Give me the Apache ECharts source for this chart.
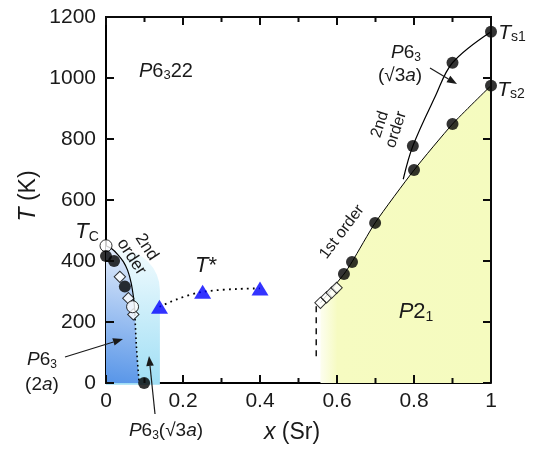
<!DOCTYPE html>
<html>
<head>
<meta charset="utf-8">
<script src="https://cdn.jsdelivr.net/npm/echarts@6/dist/echarts.min.js"></script>
<style>
  html, body { margin: 0; padding: 0; background: #fff; }
  #chart { width: 536px; height: 449px; }
</style>
</head>
<body>
<div id="chart"></div>
<script>
// axis ranges and ticks
const xRange = [0, 1];
const yRange = [0, 1200];
const xMajorTicks = [0, 0.2, 0.4, 0.6, 0.8, 1];
const xMinorTicks = [0.1, 0.3, 0.5, 0.7, 0.9];
const yMajorTicks = [0, 200, 400, 600, 800, 1000, 1200];

// Tc side (x ~ 0 - 0.1)
const tcCurve = [[0, 450], [0.015, 440], [0.03, 422], [0.045, 398], [0.056, 370], [0.065, 330], [0.071, 285], [0.074, 250], [0.075, 225]];
const tcDotted = [[0.075, 225], [0.079, 120], [0.086, 0]];
const tcDots = [[0, 416], [0.021, 400], [0.049, 316], [0.099, 0]];
const tcCircles = [[0, 450], [0.069, 250]];
const tcDiamonds = [[0.036, 348], [0.058, 278], [0.071, 225]];

// cyan P6_3(sqrt3 a) box: [x0, x1, y0, y1]
const cyanBox = [[0, 0.14, -6, 436]];

// T* points
const tStar = [[0.139, 250], [0.251, 299], [0.4, 310]];

// Sr rich side
const ts1Curve = [[0.772, 668], [0.797, 777], [0.855, 939], [0.9, 1050], [1, 1152]];
const ts1Dots = [[0.797, 777], [0.9, 1050], [1, 1152]];
const ts2Line = [[0.557, 263], [0.618, 357], [0.639, 397], [0.699, 525], [0.8, 698], [0.9, 849], [1, 975]];
const ts2Dots = [[0.618, 357], [0.639, 397], [0.699, 525], [0.8, 698], [0.9, 849], [1, 975]];
const ts2Squares = [[0.557, 263], [0.573, 281], [0.586, 296], [0.599, 312]];
const dashedEdge = [[0.546, 252], [0.546, 85]];

const FONT = '"Liberation Sans", Arial, sans-serif';
const INK = '#1a1a1a';
const FRAME = '#0b0b0b';

const chart = echarts.init(document.getElementById('chart'));

function rich(size) {
  return {
    i: { fontStyle: 'italic', fontSize: size, fontFamily: FONT, fill: INK },
    s: { fontSize: Math.round(size * 0.65), fontFamily: FONT, fill: INK, verticalAlign: 'bottom', lineHeight: size + 2 },
    r: { fontSize: size, fontFamily: FONT, fill: INK }
  };
}

// text label helper
function label(x, y, text, size, rotDeg) {
  return {
    type: 'text', x: x, y: y, z: 100,
    rotation: (rotDeg || 0) * Math.PI / 180,
    style: {
      text: text, fontSize: size, fontFamily: FONT, fill: INK,
      align: 'center', verticalAlign: 'middle', lineHeight: size + 1,
      rich: rich(size)
    }
  };
}

// arrow helper
function arrow(x1, y1, x2, y2) {
  const a = Math.atan2(y2 - y1, x2 - x1);
  const L = 10, W = 3.8;
  const bx = x2 - L * Math.cos(a), by = y2 - L * Math.sin(a);
  return {
    type: 'group', z: 100,
    children: [
      { type: 'line', z: 100, shape: { x1: x1, y1: y1, x2: bx, y2: by }, style: { stroke: INK, lineWidth: 1.2 } },
      { type: 'polygon', z: 100, shape: { points: [[x2, y2], [bx + W * Math.sin(a), by - W * Math.cos(a)], [bx - W * Math.sin(a), by + W * Math.cos(a)]] }, style: { fill: INK } }
    ]
  };
}

// tick / frame segment drawn as a thin filled bar (avoids stroke-state issues)
function bar(p, q) {
  const w = 2;
  const x = Math.min(p[0], q[0]) - (p[0] === q[0] ? w / 2 : 0);
  const y = Math.min(p[1], q[1]) - (p[1] === q[1] ? w / 2 : 0);
  const width = Math.max(Math.abs(q[0] - p[0]), p[0] === q[0] ? w : 0);
  const height = Math.max(Math.abs(q[1] - p[1]), p[1] === q[1] ? w : 0);
  return { type: 'rect', z: 100, shape: { x: x, y: y, width: width, height: height }, style: { fill: FRAME } };
}

const labelStyle = { fontSize: 21, fontFamily: FONT, color: INK, formatter: function (v) { return String(v); } };

const option = {
  animation: false,
  grid: { left: 106, right: 45, top: 17, bottom: 66 },
  xAxis: {
    type: 'value', min: xRange[0], max: xRange[1], interval: 0.2,
    axisLine: { show: true, onZero: false, lineStyle: { color: '#000', width: 2 } },
    axisTick: { show: false },
    splitLine: { show: false },
    axisLabel: Object.assign({ margin: 8 }, labelStyle)
  },
  yAxis: {
    type: 'value', min: yRange[0], max: yRange[1], interval: 200,
    axisLine: { show: true, onZero: false, lineStyle: { color: '#000', width: 2 } },
    axisTick: { show: false },
    splitLine: { show: false },
    axisLabel: Object.assign({ margin: 10 }, labelStyle)
  },
  series: [
    {
      // cyan region
      type: 'custom', z: 1, clip: false,
      data: cyanBox,
      renderItem: function (params, api) {
        const p0 = api.coord([api.value(0), api.value(3)]);
        const p1 = api.coord([api.value(1), api.value(2)]);
        return {
          type: 'rect',
          shape: { x: p0[0], y: p0[1], width: p1[0] - p0[0], height: p1[1] - p0[1], r: [0, 40, 0, 0] },
          style: {
            fill: new echarts.graphic.LinearGradient(0, 0, 0, 1, [
              { offset: 0, color: '#f1fbfe' },
              { offset: 1, color: '#9fdef5' }
            ])
          }
        };
      }
    },
    {
      // blue region under Tc curve
      type: 'custom', z: 2, clip: false,
      data: [[0, 0]],
      renderItem: function (params, api) {
        const pts = [[0, 0]].concat(tcCurve, tcDotted.slice(1)).map(function (d) { return api.coord(d); });
        return {
          type: 'polygon',
          shape: { points: pts },
          style: {
            fill: new echarts.graphic.LinearGradient(0, 1, 0.7, 0, [
              { offset: 0, color: '#5795e8' },
              { offset: 1, color: '#e6eefb' }
            ])
          }
        };
      }
    },
    {
      // Ts2 line + P2_1 area
      type: 'line', z: 3, data: ts2Line, smooth: 0.2, symbol: 'none',
      lineStyle: { color: '#000', width: 1 },
      areaStyle: {
        origin: 'start',
        color: new echarts.graphic.LinearGradient(0, 0, 1, 0, [
          { offset: 0, color: '#fdfeef' },
          { offset: 0.1, color: '#f6fbc1' },
          { offset: 1, color: '#f5fbbf' }
        ]),
        opacity: 1
      }
    },
    {
      type: 'line', z: 4, data: ts1Curve, smooth: 0.35, symbol: 'none',
      lineStyle: { color: '#000', width: 1.2 }
    },
    {
      type: 'line', z: 4, data: tcCurve, smooth: 0.3, symbol: 'none',
      lineStyle: { color: '#000', width: 1.2 }
    },
    {
      type: 'line', z: 4, data: tcDotted, smooth: 0.3, symbol: 'none',
      lineStyle: { color: '#000', width: 1.6, type: [1.6, 3] }
    },
    {
      type: 'line', z: 4, data: dashedEdge, symbol: 'none',
      lineStyle: { color: '#000', width: 1.4, type: [6, 5] }
    },
    {
      type: 'line', z: 4, data: tStar, smooth: 0.4, symbol: 'none',
      lineStyle: { color: '#000', width: 1.8, type: [1.8, 4.2] }
    },
    {
      type: 'scatter', z: 6, data: tcDiamonds.concat(ts2Squares), symbol: 'rect', symbolRotate: 45, symbolSize: 8,
      itemStyle: { color: '#fff', borderColor: '#000', borderWidth: 1 }
    },
    {
      type: 'scatter', z: 7, data: tcCircles, symbol: 'circle', symbolSize: 12,
      itemStyle: { color: '#fff', borderColor: '#000', borderWidth: 1 }
    },
    {
      type: 'scatter', z: 8, data: tcDots.concat(ts1Dots, ts2Dots), symbol: 'circle', symbolSize: 12,
      itemStyle: { color: '#000' }
    },
    {
      type: 'scatter', z: 8, data: tStar, symbol: 'triangle', symbolSize: [17, 14],
      itemStyle: { color: '#0000ff' }
    }
  ]
};

chart.setOption(option);

// frame and inward ticks on all four sides, positioned with the chart's own scales
function toPx(v) { return chart.convertToPixel({ xAxisIndex: 0, yAxisIndex: 0 }, v); }
const frame = [];
const tl = toPx([xRange[0], yRange[1]]), tr = toPx([xRange[1], yRange[1]]), br = toPx([xRange[1], yRange[0]]);
frame.push(bar([tl[0] - 1, tl[1]], [tr[0] + 1, tr[1]]), bar(tr, br));
function addXTick(v, len) {
  const b = toPx([v, yRange[0]]), t = toPx([v, yRange[1]]);
  frame.push(bar(b, [b[0], b[1] - len]), bar(t, [t[0], t[1] + len]));
}
xMajorTicks.forEach(function (v) { addXTick(v, 8); });
xMinorTicks.forEach(function (v) { addXTick(v, 5); });
yMajorTicks.forEach(function (v) {
  const l = toPx([xRange[0], v]), r = toPx([xRange[1], v]);
  frame.push(bar(l, [l[0] + 8, l[1]]), bar(r, [r[0] - 8, r[1]]));
});

const labels = [
  label(166, 71, '{i|P}{r|6}{s|3}{r|22}', 20),
  label(87, 232, '{i|T}{s|C}', 22),
  label(139, 252, '2nd\norder', 17, -57),
  label(206, 266, '{i|T}{r|*}', 22),
  label(42, 360, '{i|P}{r|6}{s|3}', 19),
  label(42, 385, '{r|(2}{i|a}{r|)}', 19),
  label(166, 431, '{i|P}{r|6}{s|3}{r|(√3}{i|a}{r|)}', 19),
  label(292, 433, '{i|x}{r| (Sr)}', 23),
  label(29, 196, '{i|T}{r| (K)}', 23, 90),
  label(342, 232, '1st order', 16, 53),
  label(388, 127, '2nd\norder', 16, 72),
  label(406, 53, '{i|P}{r|6}{s|3}', 19),
  label(400, 76, '{r|(√3}{i|a}{r|)}', 19),
  label(512, 33, '{i|T}{s|s1}', 21),
  label(511, 90, '{i|T}{s|s2}', 21),
  label(416, 312, '{i|P}{r|2}{s|1}', 22),
  arrow(65, 357, 123, 339),
  arrow(155, 414, 149, 356),
  arrow(430, 68, 457, 84)
];

chart.setOption({ graphic: labels.concat(frame) });
</script>
</body>
</html>
